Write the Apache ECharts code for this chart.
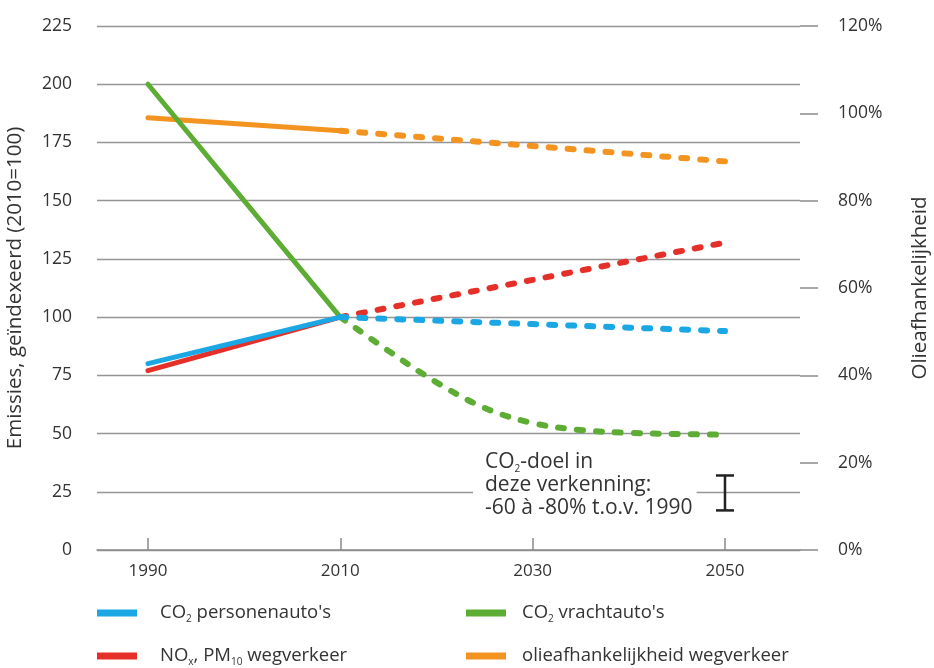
<!DOCTYPE html>
<html>
<head>
<meta charset="utf-8">
<script src="https://cdn.jsdelivr.net/npm/echarts@6/dist/echarts.min.js"></script>
<style>
html,body{margin:0;padding:0;background:#fff;}
#chart{width:934px;height:668px;}
</style>
</head>
<body>
<div id="chart"></div>
<script>
// ---- data ----
const xTickYears = [1990, 2010, 2030, 2050];
const leftTicks = [0, 25, 50, 75, 100, 125, 150, 175, 200, 225];
const rightTicks = [0, 20, 40, 60, 80, 100, 120];

const yearsHist = [1990, 2010];
const yearsProj = [2010, 2030, 2050];
const yearsProj5 = [2010, 2015, 2020, 2025, 2030, 2035, 2040, 2045, 2050];

const co2PersonenHist = [80, 100];
const co2PersonenProj = [100, 97, 94];
const noxHist = [77, 100];
const noxProj = [100, 116, 132];
const co2VrachtHist = [200, 100];
const co2VrachtProj = [100, 85.5, 72, 61, 54.5, 51.5, 50.3, 49.8, 49.5];
const olieHist = [99, 96];
const olieProj = [96, 92.5, 89];
const co2DoelYear = 2050;
const co2DoelRange = [17, 32];

const names = {
  blue: "CO2 personenauto's",
  green: "CO2 vrachtauto's",
  red: "NOx, PM10 wegverkeer",
  orange: "olieafhankelijkheid wegverkeer"
};
const richNames = {};
richNames[names.blue] = "CO{sub|2} personenauto's";
richNames[names.green] = "CO{sub|2} vrachtauto's";
richNames[names.red] = "NO{sub|x}, PM{sub|10} wegverkeer";
richNames[names.orange] = "olieafhankelijkheid wegverkeer";

const colors = {blue:'#1ba7e4', green:'#5dad35', red:'#e5302a', orange:'#f39320'};

function pairs(xs, ys){ return xs.map((x,i)=>[x, ys[i]]); }

const FONT = "'Open Sans', sans-serif";
const TXT = '#333';

function solid(name, color, xs, ys, yAxisIndex){
  return {type:'line', name, color, yAxisIndex: yAxisIndex||0, data: pairs(xs, ys),
    symbol:'none', lineStyle:{width:5, color, cap:'round'}, z:3};
}
function dashed(name, color, xs, ys, yAxisIndex, smooth){
  return {type:'line', name, color, yAxisIndex: yAxisIndex||0, data: pairs(xs, ys),
    symbol:'none', smooth: smooth||false,
    lineStyle:{width:6, color, type:[6,13], cap:'round'}, z:3};
}

const legendText = {
  color:TXT, fontSize:18.5, fontFamily:FONT, lineHeight:22,
  rich:{sub:{fontSize:10, verticalAlign:'bottom', lineHeight:14, fontFamily:FONT, color:TXT}}
};

const chart = echarts.init(document.getElementById('chart'));
chart.setOption({
  animation:false,
  textStyle:{fontFamily:FONT},
  grid:{left:97, right:134, top:26, bottom:118, outerBoundsMode:'none', containLabel:false},
  xAxis:{
    type:'value', min:1984.7, max:2057.8,
    axisLine:{show:true, lineStyle:{color:'#8a8a8a', width:1.5}},
    axisTick:{show:true, inside:true, length:12, customValues:xTickYears, lineStyle:{color:'#8a8a8a', width:1.5}},
    axisLabel:{customValues:xTickYears, color:TXT, fontSize:17, margin:13, fontFamily:FONT,
      formatter:v=>String(Math.round(v))},
    splitLine:{show:false}
  },
  yAxis:[{
    type:'value', min:0, max:225, interval:25,
    name:'Emissies, geïndexeerd (2010=100)', nameLocation:'middle', nameGap:71, nameRotate:90,
    nameTextStyle:{color:TXT, fontSize:20.5, fontFamily:FONT},
    axisLine:{show:false}, axisTick:{show:false},
    axisLabel:{color:TXT, fontSize:17.5, margin:25, fontFamily:FONT},
    splitLine:{show:true, lineStyle:{color:'#959595', width:1.3}}
  },{
    type:'value', min:0, max:120, interval:20, position:'right',
    name:'Olieafhankelijkheid', nameLocation:'middle', nameGap:110, nameRotate:90,
    nameTextStyle:{color:TXT, fontSize:20.5, fontFamily:FONT},
    axisLine:{show:false},
    axisTick:{show:true, length:18, lineStyle:{color:'#8a8a8a', width:1.5}},
    axisLabel:{color:TXT, fontSize:17.5, margin:38, fontFamily:FONT, formatter:'{value}%'},
    splitLine:{show:false}
  }],
  legend:[{
    orient:'vertical', left:97, top:602, height:66, padding:0, itemWidth:40, itemHeight:7, itemGap:21, icon:'rect',
    data:[names.blue, names.red],
    formatter:n=>richNames[n],
    textStyle:Object.assign({padding:[0,0,0,18]}, legendText)
  },{
    orient:'vertical', left:466, top:602, height:66, padding:0, itemWidth:40, itemHeight:7, itemGap:21, icon:'rect',
    data:[names.green, names.orange],
    formatter:n=>richNames[n],
    textStyle:Object.assign({padding:[0,0,0,11]}, legendText)
  }],
  graphic:[{
    type:'text', left:473, top:449, z:5,
    style:{
      text:'CO{sub|2}-doel in\ndeze verkenning:\n-60 à -80% t.o.v. 1990',
      fill:TXT, fontSize:21, fontFamily:FONT, lineHeight:23,
      backgroundColor:'#fff', padding:[2,4,2,12],
      rich:{sub:{fontSize:10, verticalAlign:'bottom', lineHeight:14, fill:TXT, fontFamily:FONT}}
    }
  }],
  series:[
    solid(names.orange, colors.orange, yearsHist, olieHist, 1),
    dashed(names.orange, colors.orange, yearsProj, olieProj, 1),
    solid(names.red, colors.red, yearsHist, noxHist),
    dashed(names.red, colors.red, yearsProj, noxProj),
    solid(names.green, colors.green, yearsHist, co2VrachtHist),
    dashed(names.green, colors.green, yearsProj5, co2VrachtProj, 0, 0.35),
    solid(names.blue, colors.blue, yearsHist, co2PersonenHist),
    dashed(names.blue, colors.blue, yearsProj, co2PersonenProj),
    {
      type:'custom', name:'co2doel', z:6,
      data:[[co2DoelYear, co2DoelRange[0], co2DoelRange[1]]],
      encode:{x:0, y:[1,2]},
      renderItem:function(params, api){
        const x = api.value(0);
        const lo = api.coord([x, api.value(1)]);
        const hi = api.coord([x, api.value(2)]);
        const w = 9;
        const st = {stroke:'#222', lineWidth:2.5};
        return {type:'group', children:[
          {type:'line', shape:{x1:lo[0], y1:lo[1], x2:hi[0], y2:hi[1]}, style:st},
          {type:'line', shape:{x1:lo[0]-w, y1:lo[1], x2:lo[0]+w, y2:lo[1]}, style:st},
          {type:'line', shape:{x1:hi[0]-w, y1:hi[1], x2:hi[0]+w, y2:hi[1]}, style:st}
        ]};
      }
    }
  ]
});
</script>
</body>
</html>
